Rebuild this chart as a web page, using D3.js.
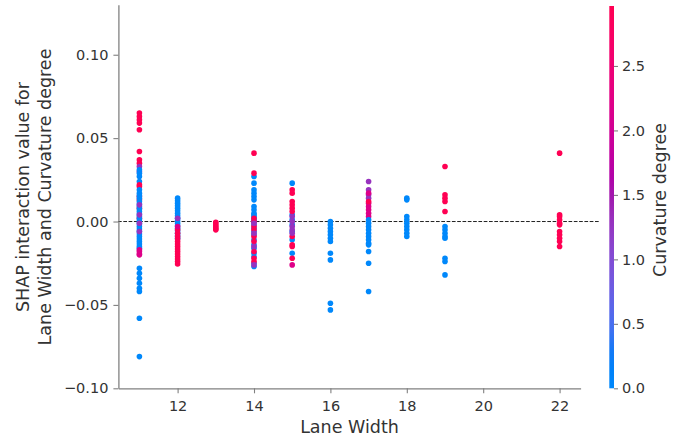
<!DOCTYPE html>
<html>
<head>
<meta charset="utf-8">
<script src="https://cdn.jsdelivr.net/npm/d3@7"></script>
<style>
  body { margin: 0; background: #fff; }
  svg { display: block; font-family: "DejaVu Sans", sans-serif; }
</style>
</head>
<body>
<div id="chart"></div>
<script>
// --- data ---
const laneWidths = [11, 12, 13, 14, 15, 16, 17, 18, 19, 22];

// curvature codes used below: R = high (red), M = magenta, P = purple, B = low (blue)
const R = 2.96, M = 2.2, P = 1.3, B = 0;

const shapByLane = [
  // 11
  [0.065, 0.063, 0.061, 0.059, 0.055, 0.042, 0.037, 0.035, 0.033, 0.030,
   0.031, 0.029, 0.027, 0.024, 0.022, 0.021, 0.019, 0.015, 0.013, 0.008, 0.002,
   0.017, 0.0155, 0.014, 0.012, 0.0105, 0.009, 0.0075, 0.006, 0.0045, 0.003, 0.0015, 0.000,
   -0.0015, -0.003, -0.0045, -0.006, -0.0075, -0.009, -0.0105, -0.012, -0.0135, -0.015, -0.016,
   0.010, 0.004, -0.001, -0.006,
   -0.017, -0.018, -0.0195, -0.020,
   -0.028, -0.031, -0.034, -0.037, -0.040, -0.042, -0.058, -0.081],
  // 12
  [0.014, 0.0125, 0.011, 0.0095, 0.008, 0.0065, 0.005, 0.0035, 0.002, 0.0005,
   -0.001, -0.0025, -0.004, -0.0055, -0.007, -0.0085, -0.010,
   -0.005, -0.007, -0.009, -0.0105, -0.012, -0.0135, -0.015, -0.0165, -0.018,
   -0.0195, -0.021, -0.0225, -0.024, -0.0255,
   0.002, -0.003],
  // 13
  [-0.0005, -0.0015, -0.0025, -0.0035, -0.0045, -0.005],
  // 14
  [0.027, 0.023, 0.019, 0.017, 0.015, 0.013, 0.009, 0.007, 0.005, 0.004, 0.003,
   0.002, 0.001, 0.000, -0.002, -0.004, -0.006, -0.008, -0.011, -0.014, -0.016,
   -0.019, -0.021, -0.025, -0.027,
   0.041, 0.029, 0.002, 0.000, -0.003, -0.005, -0.009, -0.012, -0.018, -0.022, -0.024,
   -0.001, -0.007, -0.015, -0.026],
  // 15
  [0.023, 0.004, 0.001, -0.002, -0.006, -0.011, -0.019,
   0.019, 0.017, 0.012, 0.010, 0.008, 0.006, -0.009, -0.014, -0.015, -0.022,
   0.003, 0.000, -0.003, -0.005, -0.007, -0.026],
  // 16
  [0.000, -0.002, -0.004, -0.006, -0.008, -0.010, -0.012, -0.019, -0.023, -0.049, -0.053],
  // 17
  [0.024, 0.019, 0.016, 0.014,
   0.017, 0.011, 0.009, 0.007, 0.005, 0.003, 0.012,
   0.001, -0.001, -0.003, -0.005, -0.007, -0.009, -0.011, -0.013, -0.014, -0.018, -0.025, -0.042],
  // 18
  [0.014, 0.013, 0.003, 0.001, -0.001, -0.003, -0.005, -0.007, -0.009],
  // 19
  [0.033, 0.016, 0.014, 0.012, 0.006,
   -0.003, -0.005, -0.007, -0.009, -0.010, -0.022, -0.024, -0.032],
  // 22
  [0.041, 0.004, 0.003, 0.001, -0.001, -0.002, -0.006, -0.008, -0.010, -0.012, -0.015]
];

const curvByLane = [
  // 11
  [R, R, R, R, R, R, R, R, P, P,
   B, B, B, B, R, R, B, R, R, R, R,
   B, B, B, B, B, B, B, B, B, B, B, B,
   B, B, B, B, B, B, B, B, B, B, B,
   P, P, P, P,
   M, M, M, M,
   B, B, B, B, B, B, B, B],
  // 12
  [B, B, B, B, B, B, B, B, B, B,
   B, B, B, B, B, B, B,
   R, R, R, R, R, R, R, R, R,
   R, R, R, R, R,
   P, M],
  // 13
  [R, R, R, R, R, R],
  // 14
  [B, B, B, B, B, B, B, B, B, B, B,
   B, B, B, B, B, B, B, B, B, B,
   B, B, B, B,
   R, R, R, R, R, R, R, R, R, R, R,
   P, P, P, P],
  // 15
  [B, B, B, B, B, B, B,
   R, R, R, R, R, R, R, R, R, R,
   P, P, P, P, P, M],
  // 16
  [B, B, B, B, B, B, B, B, B, B, B],
  // 17
  [P, P, P, P,
   M, M, M, M, M, M, R,
   B, B, B, B, B, B, B, B, B, B, B, B],
  // 18
  [B, B, B, B, B, B, B, B, B],
  // 19
  [R, R, R, R, R,
   B, B, B, B, B, B, B, B],
  // 22
  [R, R, R, R, R, R, R, R, R, R, R]
];

const xTicks = [12, 14, 16, 18, 20, 22];
const yTicks = [-0.10, -0.05, 0.00, 0.05, 0.10];
const cTicks = [0.0, 0.5, 1.0, 1.5, 2.0, 2.5];

// --- layout ---
const width = 676, height = 442;
const textColor = "#333333";
const spineColor = "#808080";

const x = d3.scaleLinear().domain([10.45, 22.55]).range([118.4, 580.6]);
const y = d3.scaleLinear().domain([-0.10, 0.13]).range([388.3, 4.7]);
const cScale = d3.scaleLinear().domain([0, 2.965]).range([388.3, 6]);

// shap red_blue colormap: LCh path blue -> purple -> red
function redBlue(t) {
  t = Math.max(0, Math.min(1, t));
  const h = 266.93 + t * (380.32 - 266.93);
  const c = 70 + 20 * t;
  const l = t < 0.5 ? 54 - 28 * t : 40 + 28 * (t - 0.5);
  return d3.hcl(h, c, l).rgb().clamp().formatHex();
}
const color = (v) => redBlue(v / 2.965);

const points = [];
laneWidths.forEach((lw, i) => {
  shapByLane[i].forEach((s, j) => {
    points.push({ lane: lw, shap: s, curv: curvByLane[i][j] });
  });
});

const svg = d3.select("#chart").append("svg")
  .attr("width", width).attr("height", height);

// zero line (dashed)
svg.append("line")
  .attr("x1", 118).attr("x2", 600)
  .attr("y1", y(0)).attr("y2", y(0))
  .attr("stroke", "#222").attr("stroke-width", 1)
  .attr("stroke-dasharray", "3.7,1.6");

// dots
svg.append("g")
  .selectAll("circle")
  .data(points)
  .join("circle")
  .attr("cx", (d) => x(d.lane))
  .attr("cy", (d) => y(d.shap))
  .attr("r", 2.8)
  .attr("fill", (d) => color(d.curv));

// axes
function styleAxis(g) {
  g.select(".domain").attr("stroke", spineColor).attr("stroke-width", 1.3);
  g.selectAll(".tick line").attr("stroke", spineColor).attr("stroke-width", 1.1);
  g.selectAll(".tick text").attr("fill", textColor).attr("font-size", 14.5)
    .attr("font-family", "DejaVu Sans");
}

svg.append("g")
  .attr("transform", `translate(0,${y.range()[0]})`)
  .call(d3.axisBottom(x).tickValues(xTicks).tickFormat(d3.format("d"))
    .tickSize(5).tickSizeOuter(0).tickPadding(7))
  .call(styleAxis);

svg.append("g")
  .attr("transform", `translate(${x.range()[0]},0)`)
  .call(d3.axisLeft(y).tickValues(yTicks).tickFormat(d3.format(".2f"))
    .tickSize(5).tickSizeOuter(0).tickPadding(5))
  .call(styleAxis);

// axis labels
svg.append("text")
  .attr("x", 349.5).attr("y", 433)
  .attr("text-anchor", "middle")
  .attr("font-size", 17.5).attr("fill", textColor)
  .text("Lane Width");

const yLabel = ["SHAP interaction value for", "Lane Width and Curvature degree"];
yLabel.forEach((t, i) => {
  svg.append("text")
    .attr("transform", `translate(${23 + i * 22},197) rotate(-90)`)
    .attr("dy", "0.35em")
    .attr("text-anchor", "middle")
    .attr("font-size", 17.5).attr("fill", textColor)
    .text(t);
});

// colorbar
const defs = svg.append("defs");
const grad = defs.append("linearGradient")
  .attr("id", "cbar").attr("x1", 0).attr("y1", 1).attr("x2", 0).attr("y2", 0);
d3.range(0, 1.0001, 0.05).forEach((t) => {
  grad.append("stop").attr("offset", t).attr("stop-color", redBlue(t));
});
svg.append("rect")
  .attr("x", 609.3).attr("y", cScale.range()[1])
  .attr("width", 4.7).attr("height", cScale.range()[0] - cScale.range()[1])
  .attr("fill", "url(#cbar)");

svg.append("g")
  .attr("transform", "translate(614,0)")
  .call(d3.axisRight(cScale).tickValues(cTicks).tickFormat(d3.format(".1f"))
    .tickSize(4).tickSizeOuter(0).tickPadding(4))
  .call(styleAxis)
  .call((g) => g.select(".domain").remove());

svg.append("text")
  .attr("transform", "translate(660,200) rotate(-90)")
  .attr("dy", "0.35em")
  .attr("text-anchor", "middle")
  .attr("font-size", 17.5).attr("fill", textColor)
  .text("Curvature degree");
</script>
</body>
</html>
